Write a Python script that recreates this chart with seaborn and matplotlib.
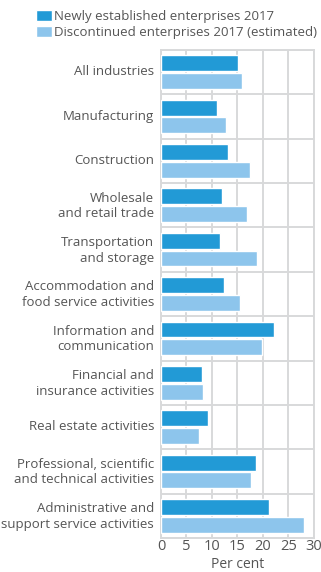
import matplotlib
matplotlib.use("Agg")
import matplotlib.pyplot as plt
import matplotlib.transforms as mtransforms
import seaborn as sns
import pandas as pd

categories = [
    "All industries",
    "Manufacturing",
    "Construction",
    "Wholesale\nand retail trade",
    "Transportation\nand storage",
    "Accommodation and\nfood service activities",
    "Information and\ncommunication",
    "Financial and\ninsurance activities",
    "Real estate activities",
    "Professional, scientific\nand technical activities",
    "Administrative and\nsupport service activities",
]
new_2017 = [15.1, 11.0, 13.1, 12.0, 11.6, 12.4, 22.2, 8.0, 9.2, 18.6, 21.2]
discontinued_2017 = [15.9, 12.7, 17.5, 16.9, 18.8, 15.5, 19.8, 8.2, 7.5, 17.6, 28.0]
series_names = ["Newly established enterprises 2017",
                "Discontinued enterprises 2017 (estimated)"]
x_ticks = [0, 5, 10, 15, 20, 25, 30]

df = pd.DataFrame({
    "category": categories * 2,
    "value": new_2017 + discontinued_2017,
    "series": [series_names[0]] * len(categories) + [series_names[1]] * len(categories),
})

sns.set_theme(style="white")
plt.rcParams["font.family"] = ["Open Sans", "DejaVu Sans"]
text_color = "#555555"
grid_color = "#d8d9da"

W, H = 321, 572
fig = plt.figure(figsize=(W / 100, H / 100), dpi=100)
ax = fig.add_axes([161 / W, 1 - 538 / H, (314 - 161) / W, (538 - 50) / H])

sns.barplot(data=df, y="category", x="value", hue="series", orient="h",
            palette=["#229ad6", "#8dc5ec"], width=0.8, gap=0.1,
            saturation=1, ax=ax, legend=True, zorder=3)

ax.set_xlim(0, 30)
ax.set_ylim(len(categories) - 0.5, -0.5)
ax.set_xticks(x_ticks)
ax.set_xticklabels([str(t) for t in x_ticks])
ax.set_xlabel("Per cent", color=text_color, fontsize=10, labelpad=2)
ax.set_ylabel("")

# vertical grid at tick values, horizontal separators between categories
for t in x_ticks:
    ax.axvline(t, color=grid_color, lw=1.4, zorder=1)
for i in range(len(categories) + 1):
    ax.axhline(i - 0.5, color=grid_color, lw=1.4, zorder=1)

for s in ax.spines.values():
    s.set_color(grid_color)
    s.set_linewidth(1.4)

ax.tick_params(axis="both", length=0, colors=text_color)
ax.tick_params(axis="y", pad=5, labelsize=9.5)
ax.tick_params(axis="x", pad=1, labelsize=10.5)

# category labels: right-aligned lines, nudged slightly upward
offset = mtransforms.ScaledTranslation(0, 2 / 100, fig.dpi_scale_trans)
for lab in ax.get_yticklabels():
    lab.set_multialignment("right")
    lab.set_linespacing(1.25)
    lab.set_transform(lab.get_transform() + offset)

handles, labels = ax.get_legend_handles_labels()
ax.get_legend().remove()
fig.legend(handles, labels, loc="upper left",
           bbox_to_anchor=(32 / W, 1 - 6 / H),
           frameon=False, fontsize=9.5, labelcolor=text_color,
           handlelength=1.2, handleheight=0.85, handletextpad=0.2,
           labelspacing=0.25, borderaxespad=0, borderpad=0.3)

fig.savefig("out.png", dpi=100)
